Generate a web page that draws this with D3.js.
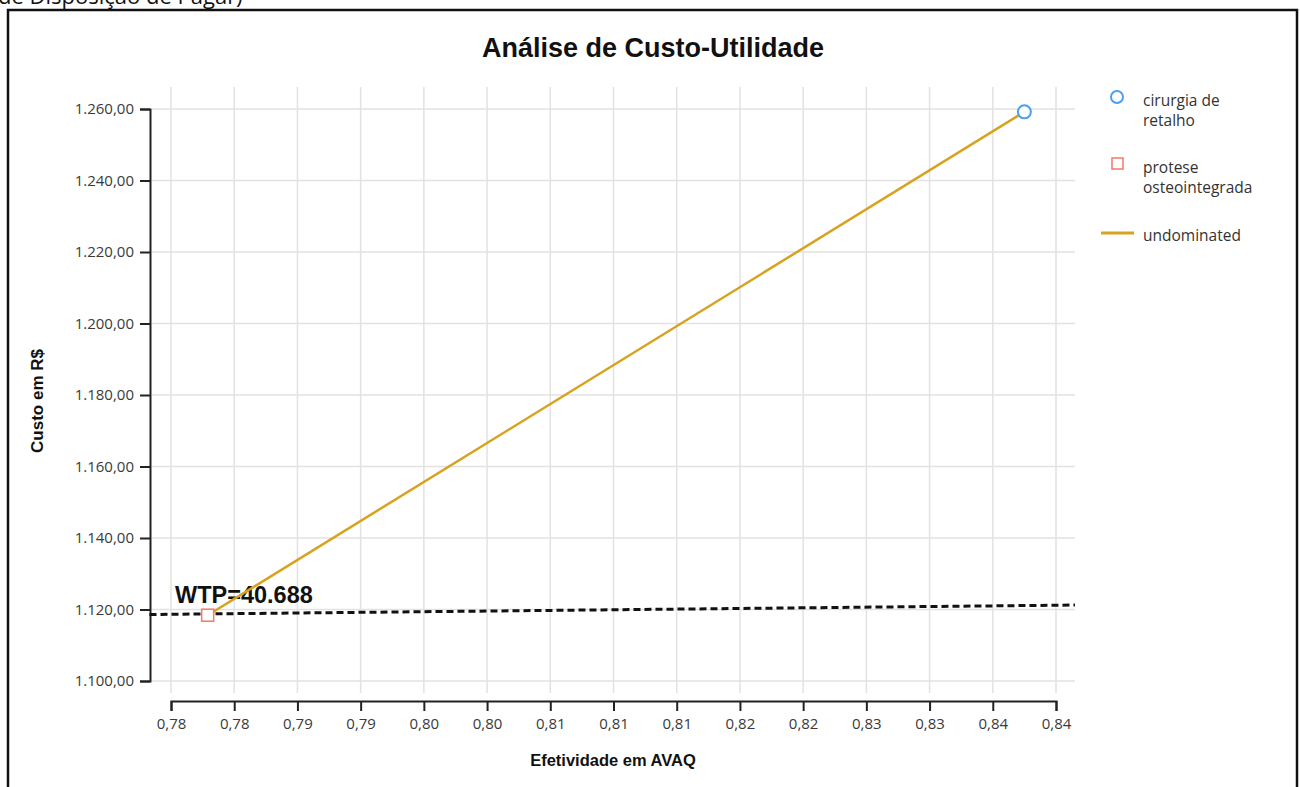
<!DOCTYPE html>
<html><head><meta charset="utf-8">
<script src="https://cdn.jsdelivr.net/npm/d3@7"></script>
<style>html,body{margin:0;padding:0;background:#fff;overflow:hidden}</style>
</head><body>
<svg id="chart" width="1300" height="787"></svg>
<script>
const strategies = ["cirurgia de retalho", "protese osteointegrada"];
const effectiveness = [0.8425, 0.7779];
const costs = [1259.2, 1118.4];
const frontierLabel = "undominated";
const wtpLabel = "WTP=40.688";
const wtpX = [0.7733, 0.8465];
const wtpY = [1118.6, 1121.25];
const xTickValues = [0.775,0.78,0.785,0.79,0.795,0.8,0.805,0.81,0.815,0.82,0.825,0.83,0.835,0.84,0.845];
const xTickLabels = ["0,78","0,78","0,79","0,79","0,80","0,80","0,81","0,81","0,81","0,82","0,82","0,83","0,83","0,84","0,84"];
const yTickValues = [1100,1120,1140,1160,1180,1200,1220,1240,1260];
const yTickLabels = ["1.100,00","1.120,00","1.140,00","1.160,00","1.180,00","1.200,00","1.220,00","1.240,00","1.260,00"];

const svg = d3.select("#chart");
const x = d3.scaleLinear().domain([0.775, 0.845]).range([171, 1056]);
const y = d3.scaleLinear().domain([1100, 1260]).range([681, 109]);
const plot = {left: 152, right: 1075, top: 87, bottom: 693};
const tickFont = "'Open Sans', 'Noto Sans', sans-serif";
const boldFont = "'Liberation Sans', Arial, sans-serif";

// clipped caption at top
svg.append("text").attr("x", -2).attr("y", 4).attr("font-family", "'Open Sans', sans-serif")
  .attr("font-size", 22).attr("fill", "#111").text("de Disposição de Pagar)");

// frame
svg.append("rect").attr("x", 8).attr("y", 10).attr("width", 1289).attr("height", 800)
  .attr("fill", "none").attr("stroke", "#111").attr("stroke-width", 2.5);

// grid
svg.append("g").selectAll("line.v").data(xTickValues).join("line")
  .attr("x1", d => x(d)).attr("x2", d => x(d)).attr("y1", plot.top).attr("y2", plot.bottom)
  .attr("stroke", "#e2e2e2").attr("stroke-width", 1.5);
svg.append("g").selectAll("line.h").data(yTickValues).join("line")
  .attr("x1", plot.left).attr("x2", plot.right).attr("y1", d => y(d)).attr("y2", d => y(d))
  .attr("stroke", "#e2e2e2").attr("stroke-width", 1.5);

// axes
const xAxis = d3.axisBottom(x).tickValues(xTickValues).tickSize(10).tickPadding(7)
  .tickFormat((d, i) => xTickLabels[i]);
const gx = svg.append("g").attr("transform", "translate(0,701)").call(xAxis);
const yAxis = d3.axisLeft(y).tickValues(yTickValues).tickSize(10).tickPadding(6)
  .tickFormat((d, i) => yTickLabels[i]);
const gy = svg.append("g").attr("transform", "translate(150,0)").call(yAxis);
[gx, gy].forEach(g => {
  g.select(".domain").attr("stroke", "#222").attr("stroke-width", 2);
  g.selectAll(".tick line").attr("stroke", "#222").attr("stroke-width", 2);
  g.selectAll(".tick text").attr("font-family", tickFont).attr("font-size", 15).attr("fill", "#3a3a3a");
});

// WTP line
svg.append("line").attr("x1", x(wtpX[0])).attr("y1", y(wtpY[0])).attr("x2", x(wtpX[1])).attr("y2", y(wtpY[1]))
  .attr("stroke", "#111").attr("stroke-width", 3).attr("stroke-dasharray", "7,4");
svg.append("text").attr("x", 175).attr("y", 603).attr("font-family", boldFont).attr("font-weight", "bold")
  .attr("font-size", 23.5).attr("fill", "#111").text(wtpLabel);

// frontier
const order = d3.range(effectiveness.length).sort((a, b) => effectiveness[a] - effectiveness[b]);
svg.append("path").datum(order)
  .attr("d", d3.line().x(i => x(effectiveness[i])).y(i => y(costs[i])))
  .attr("fill", "none").attr("stroke", "#d8a21e").attr("stroke-width", 2.5);

// markers
svg.append("circle").attr("cx", x(effectiveness[0])).attr("cy", y(costs[0])).attr("r", 6.5)
  .attr("fill", "#fff").attr("stroke", "#4a9ff5").attr("stroke-width", 2);
svg.append("rect").attr("x", x(effectiveness[1]) - 6).attr("y", y(costs[1]) - 6).attr("width", 12).attr("height", 12)
  .attr("fill", "#fff").attr("stroke", "#f27a66").attr("stroke-width", 1.5);

// title
svg.append("text").attr("x", 653).attr("y", 57).attr("text-anchor", "middle").attr("font-family", boldFont)
  .attr("font-weight", "bold").attr("font-size", 27).attr("fill", "#111").text("Análise de Custo-Utilidade");

// axis titles
svg.append("text").attr("x", 613).attr("y", 766).attr("text-anchor", "middle").attr("font-family", boldFont)
  .attr("font-weight", "bold").attr("font-size", 16.5).attr("fill", "#111").text("Efetividade em AVAQ");
svg.append("text").attr("transform", "translate(43,401) rotate(-90)").attr("text-anchor", "middle")
  .attr("font-family", boldFont).attr("font-weight", "bold").attr("font-size", 17).attr("fill", "#111").text("Custo em R$");

// legend
const leg = svg.append("g").attr("font-family", tickFont).attr("font-size", 15.5).attr("fill", "#333");
leg.append("circle").attr("cx", 1117).attr("cy", 97).attr("r", 6).attr("fill", "#fff")
  .attr("stroke", "#4a9ff5").attr("stroke-width", 2);
const t1 = leg.append("text").attr("x", 1143).attr("y", 106);
t1.append("tspan").attr("x", 1143).text("cirurgia de");
t1.append("tspan").attr("x", 1143).attr("dy", 19.5).text("retalho");
leg.append("rect").attr("x", 1112).attr("y", 158).attr("width", 11).attr("height", 11).attr("fill", "#fff")
  .attr("stroke", "#f27a66").attr("stroke-width", 1.5);
const t2 = leg.append("text").attr("x", 1143).attr("y", 173);
t2.append("tspan").attr("x", 1143).text("protese");
t2.append("tspan").attr("x", 1143).attr("dy", 19.5).text("osteointegrada");
leg.append("line").attr("x1", 1101).attr("x2", 1134).attr("y1", 233).attr("y2", 233)
  .attr("stroke", "#d8a21e").attr("stroke-width", 3);
leg.append("text").attr("x", 1143).attr("y", 241).text(frontierLabel);
</script>
</body></html>
